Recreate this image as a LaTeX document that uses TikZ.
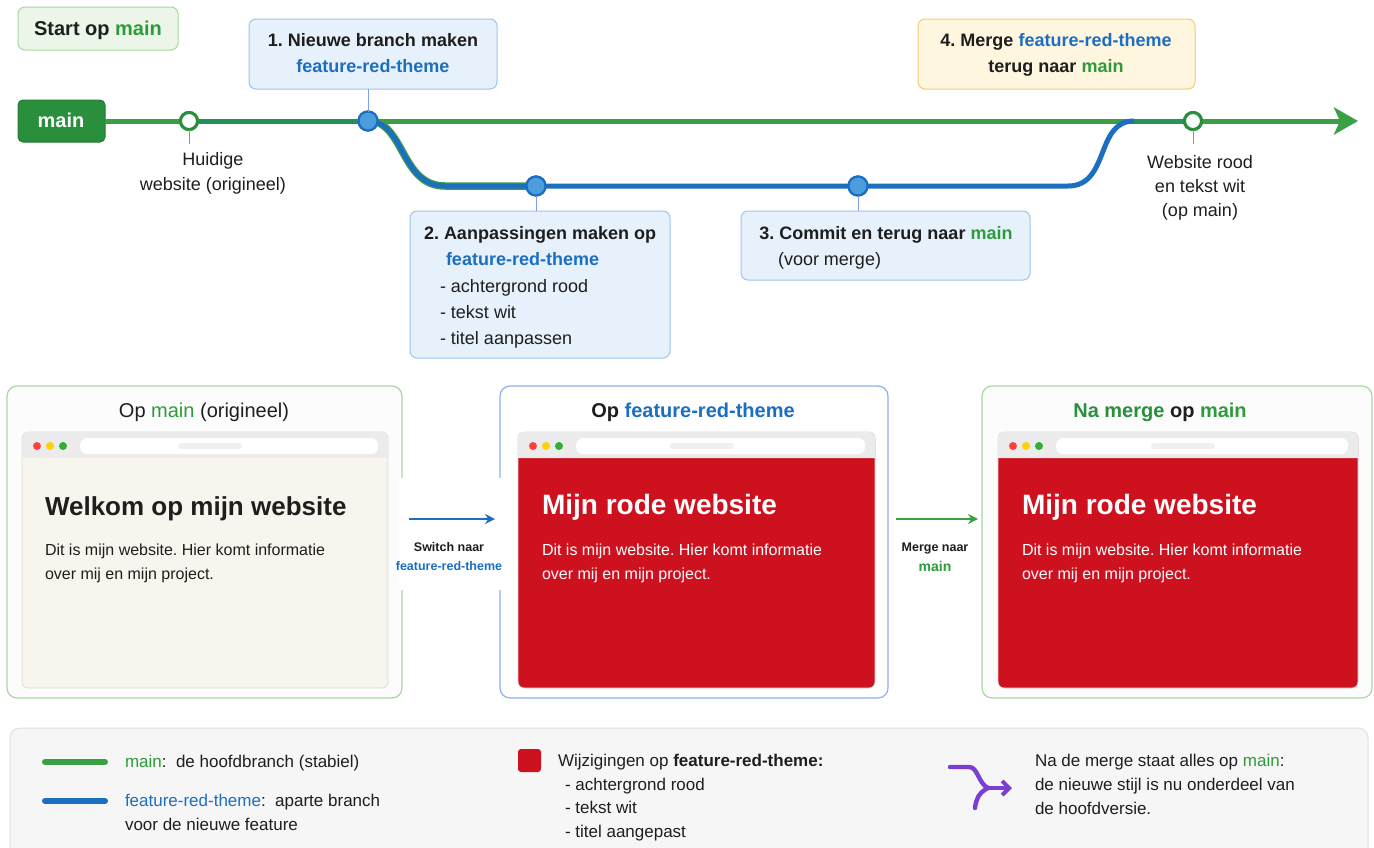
\documentclass[tikz,border=0pt]{standalone}
\usepackage{fontspec}
\setmainfont{Liberation Sans}
\usetikzlibrary{arrows.meta}
\frenchspacing
\definecolor{gmain}{HTML}{3A9F45}
\definecolor{gdark}{HTML}{2A8F3C}
\definecolor{gteal}{HTML}{24905A}
\definecolor{gtext}{HTML}{2E9A3C}
\definecolor{fblue}{HTML}{1C6FC0}
\definecolor{cblue}{HTML}{4C9DDD}
\definecolor{bluebox}{HTML}{E7F1FB}
\definecolor{blueboxB}{HTML}{9DC6EC}
\definecolor{greenbox}{HTML}{EBF6E8}
\definecolor{greenboxB}{HTML}{A9D8A0}
\definecolor{yelbox}{HTML}{FEF6DF}
\definecolor{yelboxB}{HTML}{F2CF6E}
\definecolor{webred}{HTML}{CE111F}
\definecolor{cream}{HTML}{F8F5EE}
\definecolor{toolgray}{HTML}{EBEBEB}
\definecolor{purp}{HTML}{7A3FD2}
\definecolor{txt}{HTML}{1E1E1E}
\newcommand\fsz[2]{\fontsize{#1}{#2}\selectfont}
\newcommand\browserwin[5]{%
  \fill[#5,draw=black!14,line width=0.8,rounded corners=6] (#1,#2) rectangle (#3,#4);
  \fill[toolgray] (#1,#2+26) [rounded corners=6]-- (#1,#2) -- (#3,#2) [sharp corners]-- (#3,#2+26) -- cycle;
  \fill[white,rounded corners=7] (#1+58,#2+6) rectangle (#3-10,#2+22);
  \fill[black!6,rounded corners=3] ({(#1+#3)/2+5-32},#2+11) rectangle ({(#1+#3)/2+5+32},#2+17);
  \fill[red!75!white] (#1+15,#2+14) circle (4);
  \fill[yellow!70!orange] (#1+28,#2+14) circle (4);
  \fill[green!60!black!80] (#1+41,#2+14) circle (4);
}
\tikzset{
  every node/.style={inner sep=0pt, outer sep=0pt, text=txt},
  bluebx/.style={draw=blueboxB, fill=bluebox, line width=1, rounded corners=7},
  greenbx/.style={draw=greenboxB, fill=greenbox, line width=1, rounded corners=7},
  yelbx/.style={draw=yelboxB, fill=yelbox, line width=1, rounded corners=7},
  panelg/.style={draw=greenboxB, fill=black!1.2, line width=1.2, rounded corners=10},
  panelb/.style={draw=blueboxB!90!blue, fill=white, line width=1.2, rounded corners=10},
  mainline/.style={draw=gmain, line width=5},
  branchline/.style={draw=fblue, line width=5},
  commitw/.style={circle, draw=gdark, fill=white, line width=3, minimum size=17},
  commitb/.style={circle, draw=fblue, fill=cblue, line width=2.2, minimum size=19},
  tickln/.style={line width=1},
  t18/.style={font=\fsz{18pt}{21pt}, yshift=-5.8pt},
  b18/.style={font=\fsz{18pt}{21pt}\bfseries, yshift=-5.8pt},
  b20/.style={font=\fsz{20pt}{24pt}\bfseries, yshift=-6.4pt},
  ti20/.style={font=\fsz{20pt}{24pt}, yshift=-6.4pt},
  p16/.style={font=\fsz{16pt}{19pt}, yshift=-5.1pt},
  leg/.style={font=\fsz{17pt}{20pt}, yshift=-5.4pt},
  hda/.style={font=\fsz{26pt}{31pt}\bfseries, yshift=-8.6pt},
  hdb/.style={font=\fsz{28pt}{33pt}\bfseries, yshift=-9.2pt},
  sm/.style={font=\fsz{12.5pt}{15pt}\bfseries, yshift=-4pt},
}
\begin{document}
\begin{tikzpicture}[x=1pt,y=-1pt]
\useasboundingbox (0,0) rectangle (1374,847);
\fill[white] (0,0) rectangle (1374,847);

% ---------- top: start label ----------
\node[greenbx, anchor=north west, minimum width=160, minimum height=43] (startbx) at (18,7) {};
\node[b20, anchor=base] (starttx) at (98,29) {Start op \textcolor{gtext}{main}};

% main label
\node[draw=gdark!85!black, fill=gdark, line width=1, rounded corners=5, anchor=north west,
      minimum width=87, minimum height=42] (mainlbl) at (18,100) {};
\node[b20, text=white, anchor=base] (maintx) at (61,121) {main};

% commits (positions)
\coordinate (mainend) at (1358,121);
\coordinate (mjoin) at (1134,121);
\node[commitw] (c0) at (189,121) {};
\node[commitb] (c1) at (368,121) {};
\node[commitb] (c2) at (536,186) {};
\node[commitb] (c3) at (858,186) {};
\node[commitw] (c4) at (1193,121) {};

% main line
\draw[mainline, -{Stealth[length=24pt,width=27pt,inset=6pt]}] (mainlbl.east) -- (mainend);
\draw[draw=gteal, line width=5] (c0.center) -- (c1.center);
\draw[draw=gteal!80!gmain, line width=5] (mjoin) -- (c4.center);
% branch
\draw[draw=gmain, line width=7.5] ([xshift=-1pt,yshift=1pt]c1.center) .. controls (405,121) and (400,186) .. (445,186) -- (c2.center);
\draw[branchline] (c1.center) .. controls (405,121) and (400,186) .. (445,186) -- (c2.center) -- (c3.center) -- (1068,186) .. controls (1110,186) and (1095,121) .. (mjoin);

% redraw commits on top
\node[commitw] at (c0) {};
\node[commitb] at (c1) {};
\node[commitb] at (c2) {};
\node[commitb] at (c3) {};
\node[commitw] at (c4) {};

% ---------- step boxes ----------
\node[bluebx, anchor=north west, minimum width=248, minimum height=70] (box1) at (249,19) {};
\node[b18, anchor=base] (box1a) at (373,41) {1. Nieuwe branch maken};
\node[b18, anchor=base, text=fblue] (box1b) at (373,67) {feature-red-theme};

\node[bluebx, anchor=north west, minimum width=260, minimum height=147] (box2) at (410,211) {};
\node[b18, anchor=base west] (box2a) at (424,234) {2. Aanpassingen maken op};
\node[b18, anchor=base west, text=fblue] (box2b) at (446,260) {feature-red-theme};
\node[t18, anchor=base west] (box2c) at (440,287) {- achtergrond rood};
\node[t18, anchor=base west] (box2d) at (440,313) {- tekst wit};
\node[t18, anchor=base west] (box2e) at (440,339) {- titel aanpassen};

\node[bluebx, anchor=north west, minimum width=289, minimum height=69] (box3) at (741,211) {};
\node[b18, anchor=base] (box3a) at (886,234) {3. Commit en terug naar \textcolor{gtext}{main}};
\node[t18, anchor=base west] (box3b) at (778,260) {(voor merge)};

\node[yelbx, anchor=north west, minimum width=277, minimum height=70] (box4) at (918,19) {};
\node[b18, anchor=base] (box4a) at (1056,41) {4. Merge \textcolor{fblue}{feature-red-theme}};
\node[b18, anchor=base] (box4b) at (1056,67) {terug naar \textcolor{gtext}{main}};

% ticks
\draw[tickln, draw=gmain!80] (c0.south) -- ++(0,14);
\draw[tickln, draw=blueboxB!80!blue] (c1.north |- box1.south) -- (c1.north);
\draw[tickln, draw=blueboxB!80!blue] (c2.south) -- (c2.south |- box2.north);
\draw[tickln, draw=blueboxB!80!blue] (c3.south) -- (c3.south |- box3.north);
\draw[tickln, draw=gmain!80] (c4.south) -- ++(0,14);

% commit captions
\node[t18, anchor=base] (huid1) at (213,160) {Huidige};
\node[t18, anchor=base] (huid2) at (213,185) {website (origineel)};
\node[t18, anchor=base] (web1) at (1200,163) {Website rood};
\node[t18, anchor=base] (web2) at (1200,187) {en tekst wit};
\node[t18, anchor=base] (web3) at (1200,211) {(op main)};

% ---------- panels ----------
\node[panelg, anchor=north west, minimum width=395, minimum height=312] (pan1) at (7,386) {};
\node[panelb, anchor=north west, minimum width=388, minimum height=312] (pan2) at (500,386) {};
\node[panelg, anchor=north west, minimum width=390, minimum height=312] (pan3) at (982,386) {};

\node[ti20, anchor=base] (pt1) at (204,411) {Op \textcolor{gtext}{main} (origineel)};
\node[b20, anchor=base] (pt2) at (693,411) {Op \textcolor{fblue}{feature-red-theme}};
\node[b20, anchor=base] (pt3) at (1160,411) {\textcolor{gdark}{Na merge} op \textcolor{gtext}{main}};

\browserwin{22}{432}{388}{688}{cream}
\browserwin{518}{432}{875}{688}{webred}
\browserwin{998}{432}{1358}{688}{webred}

\node[hda, anchor=base west] (h1) at (45,507) {Welkom op mijn website};
\node[p16, anchor=base west] (p1a) at (45,550) {Dit is mijn website. Hier komt informatie};
\node[p16, anchor=base west] (p1b) at (45,574) {over mij en mijn project.};

\node[hdb, anchor=base west, text=white] (h2) at (542,505) {Mijn rode website};
\node[p16, anchor=base west, text=white] (p2a) at (542,550) {Dit is mijn website. Hier komt informatie};
\node[p16, anchor=base west, text=white] (p2b) at (542,574) {over mij en mijn project.};

\node[hdb, anchor=base west, text=white] (h3) at (1022,505) {Mijn rode website};
\node[p16, anchor=base west, text=white] (p3a) at (1022,550) {Dit is mijn website. Hier komt informatie};
\node[p16, anchor=base west, text=white] (p3b) at (1022,574) {over mij en mijn project.};

% transitions between panels
\fill[white] (399,478) rectangle (504,590);
\coordinate (sw1) at (409,519); \coordinate (sw2) at (495,519);
\draw[fblue, line width=1.8, -{Stealth[length=10pt,width=10pt]}] (sw1) -- (sw2);
\node[sm, anchor=base] (swt1) at (449,547) {Switch naar};
\node[sm, anchor=base, text=fblue] (swt2) at (449,566) {feature-red-theme};

\coordinate (mg1) at (896,519); \coordinate (mg2) at (978,519);
\draw[gmain, line width=1.8, -{Stealth[length=10pt,width=10pt]}] (mg1) -- (mg2);
\node[sm, anchor=base] (mgt1) at (935,547) {Merge naar};
\node[font=\fsz{14pt}{17pt}\bfseries, yshift=-4.5pt, anchor=base, text=gtext] (mgt2) at (935,567) {main};

% ---------- legend ----------
\node[draw=black!12, fill=black!3.5, line width=1, rounded corners=10, anchor=north west,
      minimum width=1358, minimum height=140] (legend) at (10,728) {};
\coordinate (lg1a) at (45,762); \coordinate (lg1b) at (105,762);
\draw[gmain, line width=6, line cap=round] (lg1a) -- (lg1b);
\coordinate (lg2a) at (45,801); \coordinate (lg2b) at (105,801);
\draw[fblue, line width=6, line cap=round] (lg2a) -- (lg2b);
\node[leg, anchor=base west] (lt1) at (125,762) {\textcolor{gtext}{main}:\ \ de hoofdbranch (stabiel)};
\node[leg, anchor=base west] (lt2) at (125,801) {\textcolor{fblue}{feature-red-theme}:\ \ aparte branch};
\node[leg, anchor=base west] (lt3) at (125,825) {voor de nieuwe feature};

\node[fill=webred, rounded corners=3, minimum size=23, anchor=north west] (redsq) at (518,749) {};
\node[leg, anchor=base west] (lr1) at (558,761) {Wijzigingen op \textbf{feature-red-theme:}};
\node[leg, anchor=base west] (lr2) at (565,785) {- achtergrond rood};
\node[leg, anchor=base west] (lr3) at (565,808) {- tekst wit};
\node[leg, anchor=base west] (lr4) at (565,832) {- titel aangepast};

\coordinate (pj) at (988,788);
\coordinate (ptip) at (1012,788);
\draw[purp, line width=4.4, line cap=round] (950,767) -- (969,767) .. controls (978,767) and (978,783) .. (pj);
\draw[purp, line width=4.4, line cap=round] (pj) .. controls (978,793) and (976,800) .. (975,808);
\draw[purp, line width=4.4, line cap=round, -{Straight Barb[length=7pt,width=14pt,line width=4pt]}] (pj) -- (ptip);

\node[leg, anchor=base west] (ln1) at (1035,761) {Na de merge staat alles op \textcolor{gtext}{main}:};
\node[leg, anchor=base west] (ln2) at (1035,785) {de nieuwe stijl is nu onderdeel van};
\node[leg, anchor=base west] (ln3) at (1035,809) {de hoofdversie.};
\end{tikzpicture}
\end{document}
